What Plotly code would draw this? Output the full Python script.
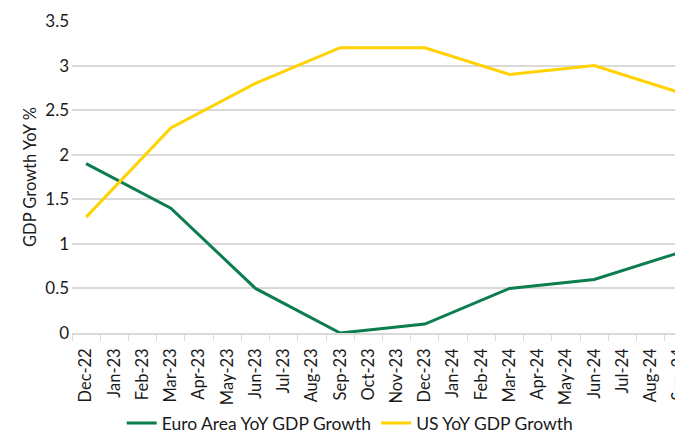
import plotly.graph_objects as go

months = ["Dec-22", "Jan-23", "Feb-23", "Mar-23", "Apr-23", "May-23", "Jun-23", "Jul-23",
          "Aug-23", "Sep-23", "Oct-23", "Nov-23", "Dec-23", "Jan-24", "Feb-24", "Mar-24",
          "Apr-24", "May-24", "Jun-24", "Jul-24", "Aug-24", "Sep-24"]
quarters = ["Dec-22", "Mar-23", "Jun-23", "Sep-23", "Dec-23", "Mar-24", "Jun-24", "Sep-24"]
euro_gdp = [1.9, 1.4, 0.5, 0.0, 0.1, 0.5, 0.6, 0.9]
us_gdp = [1.3, 2.3, 2.8, 3.2, 3.2, 2.9, 3.0, 2.7]

FONT = "Lato, 'Open Sans', sans-serif"

fig = go.Figure()
fig.add_trace(go.Scatter(x=quarters, y=euro_gdp, mode="lines", name="Euro Area YoY GDP Growth",
                         line=dict(color="#0B7D4E", width=3)))
fig.add_trace(go.Scatter(x=quarters, y=us_gdp, mode="lines", name="US YoY GDP Growth",
                         line=dict(color="#FFD200", width=3)))

# the page shows the figure offset by the default 8px body margin; size to compensate
fig.update_layout(
    width=690, height=422,
    margin=dict(l=64, r=5, t=13, b=97, autoexpand=False),
    paper_bgcolor="white", plot_bgcolor="white",
    font=dict(family=FONT, size=17, color="#1a1a1a"),
    showlegend=True,
    legend=dict(orientation="h", x=0.448, xanchor="center", y=-0.231, yanchor="top",
                font=dict(size=17.5), traceorder="normal", itemwidth=30),
    xaxis=dict(type="category", categoryorder="array", categoryarray=months,
               range=[-0.5, len(months) - 0.5], tickangle=-90, automargin=False,
               tickmode="array", tickvals=months, ticktext=months,
               tickson="boundaries", ticks="outside", ticklen=6, tickcolor="#d9d9d9",
               showline=True, linecolor="#d9d9d9", linewidth=1.5, showgrid=False,
               tickfont=dict(size=16.5), ticklabelstandoff=7),
    yaxis=dict(range=[0, 3.5], automargin=False,
               tickvals=[0, 0.5, 1, 1.5, 2, 2.5, 3, 3.5],
               ticktext=["0", "0.5", "1", "1.5", "2", "2.5", "3", "3.5"],
               showgrid=True, gridcolor="#d9d9d9", gridwidth=1.5, zeroline=False,
               ticks="", tickfont=dict(size=17), ticklabelstandoff=2,
               title=dict(text="GDP Growth YoY %", font=dict(size=16.5), standoff=4)),
)

fig.write_html("out.html")
